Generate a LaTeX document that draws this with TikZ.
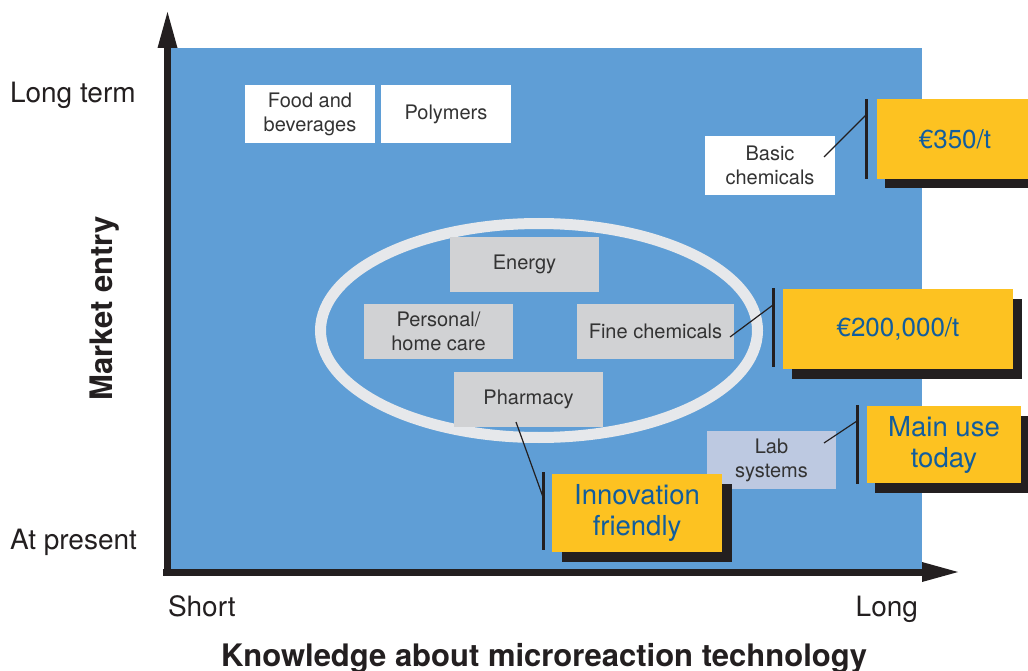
\documentclass[tikz,border=0pt]{standalone}
\usepackage{fontspec}
\setmainfont{TeX Gyre Heros}
\usetikzlibrary{shadows}
\definecolor{field}{HTML}{5F9ED6}
\definecolor{ink}{HTML}{231F20}
\definecolor{boxtext}{HTML}{333333}
\definecolor{ringgray}{HTML}{E6E8EB}
\definecolor{sectorgray}{HTML}{D1D2D4}
\definecolor{labblue}{HTML}{BDC9E1}
\definecolor{gold}{HTML}{FDC221}
\definecolor{priceblue}{HTML}{115D9E}
\begin{document}
\begin{tikzpicture}[x=1pt,y=-1pt,
  every node/.style={inner sep=0pt, outer sep=0pt},
  axisline/.style={line width=7pt, draw=ink},
  axishead/.style={fill=ink},
  sector/.style={rectangle, align=center, text=boxtext,
    font=\fontsize{20}{24}\selectfont},
  whitebox/.style={sector, fill=white},
  graybox/.style={sector, fill=sectorgray},
  labbox/.style={sector, fill=labblue},
  pricebox/.style={rectangle, align=center, fill=gold, text=priceblue,
    font=\fontsize{27.5}{31}\selectfont},
  shade/.style={drop shadow={shadow xshift=#1pt, shadow yshift=-9.5pt,
    fill=ink, opacity=1}},
  bar/.style={line width=3pt, draw=ink},
  leader/.style={line width=1.2pt, draw=ink},
  axislabel/.style={text=ink, font=\fontsize{28}{32}\selectfont},
  axistitle/.style={text=ink, font=\fontsize{31}{34}\selectfont\bfseries}
]
\useasboundingbox (0,0) rectangle (1028,671);
\fill[white] (0,0) rectangle (1028,671);

% plotting field
\fill[field] (170,48) rectangle (922,569);

% axes
\coordinate (origin) at (167.5,576);
\coordinate (ytop) at (167.5,46);
\coordinate (xorigin) at (163,572);
\coordinate (xend) at (924,572);
\draw[axisline] (origin) -- (ytop);
\fill[axishead] (157.5,48) -- (177.5,48) -- (167.5,12) -- cycle;
\draw[axisline] (xorigin) -- (xend);
\fill[axishead] (922,562) -- (922,582) -- (958,572) -- cycle;

% axis labels
\node[axislabel, anchor=base west] (longterm) at (10,103) {Long term};
\node[axislabel, anchor=base west] (atpresent) at (10,549) {At present};
\node[axislabel, anchor=base west] (short) at (168,616) {Short};
\node[axislabel, anchor=base east] (long) at (918,616) {Long};
\node[axistitle, anchor=base, rotate=90] (ytitle) at (112,308.5) {Market entry};
\node[axistitle, anchor=base] (xtitle) at (544,666) {Knowledge about microreaction technology};

% cluster ring
\draw[ringgray, line width=11pt] (539,330.5) ellipse [x radius=218.5, y radius=107];

% sectors
\node[whitebox, minimum width=130pt, minimum height=58pt] (food) at (310,114) {Food and\\beverages};
\node[whitebox, minimum width=130pt, minimum height=58pt] (polymers) at (446,114) {Polymers};
\node[whitebox, minimum width=130pt, minimum height=59pt] (basic) at (770,165.5) {Basic\\chemicals};
\node[graybox, minimum width=149pt, minimum height=55pt] (energy) at (524.5,264.5) {Energy};
\node[graybox, minimum width=149pt, minimum height=55pt] (personal) at (438.5,331.5) {Personal/\\home care};
\node[graybox, minimum width=157pt, minimum height=55pt] (fine) at (655.5,331.5) {Fine chemicals};
\node[graybox, minimum width=149pt, minimum height=55pt] (pharmacy) at (528.5,399.5) {Pharmacy};
\node[labbox, minimum width=129pt, minimum height=58pt] (lab) at (771.5,460) {Lab\\systems};

% price and status tags
\node[pricebox, shade=8, minimum width=156pt, minimum height=80pt,
  font=\fontsize{26}{30}\selectfont] (p350) at (955,139) {€350/t};
\node[pricebox, shade=9, minimum width=230pt, minimum height=80pt,
  font=\fontsize{26}{30}\selectfont] (p200) at (898,329) {€200,000/t};
\node[pricebox, shade=8, minimum width=154pt, minimum height=77pt] (mainuse) at (944,444.5) {Main use\\today};
\node[pricebox, shade=10, minimum width=170pt, minimum height=78pt] (innov) at (637,513) {Innovation\\friendly};

% brackets
\coordinate (b350t) at (866,99);   \coordinate (b350b) at (866,179);
\coordinate (b200t) at (773,288);  \coordinate (b200b) at (773,367);
\coordinate (bmaint) at (857,405); \coordinate (bmainb) at (857,484);
\coordinate (binnot) at (543,472); \coordinate (binnob) at (543,550);
\draw[bar] (b350t) -- (b350b);
\draw[bar] (b200t) -- (b200b);
\draw[bar] (bmaint) -- (bmainb);
\draw[bar] (binnot) -- (binnob);

% leader lines
\coordinate (l350a) at (866,115);  \coordinate (l350b) at (824,157);
\coordinate (l200a) at (773,305);  \coordinate (l200b) at (730,337);
\coordinate (lmaina) at (857,421); \coordinate (lmainb) at (824,443);
\coordinate (linnoa) at (543,497); \coordinate (linnob) at (516,422);
\draw[leader] (l350a) -- (l350b);
\draw[leader] (l200a) -- (l200b);
\draw[leader] (lmaina) -- (lmainb);
\draw[leader] (linnoa) -- (linnob);
\end{tikzpicture}
\end{document}
